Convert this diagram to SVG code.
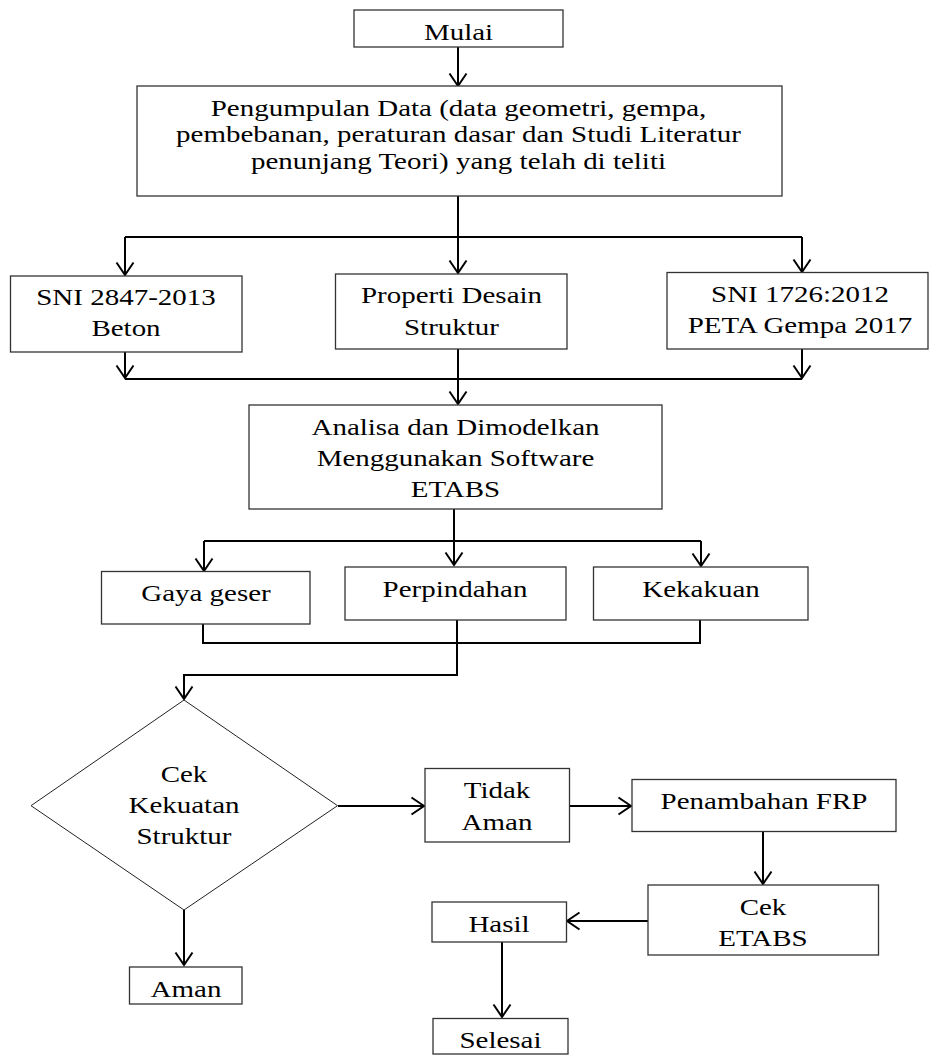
<svg xmlns="http://www.w3.org/2000/svg" width="930" height="1056" viewBox="0 0 930 1056">
<defs>
<style>
.box{fill:#fff;stroke:#333;stroke-width:1.3}
.dia{fill:#fff;stroke:#222;stroke-width:1}
.c{fill:none;stroke:#000;stroke-width:2}
.t{font-family:"Liberation Serif","Times New Roman",serif;font-size:23px;text-anchor:middle;fill:#000}
</style>
<marker id="ar" markerUnits="userSpaceOnUse" markerWidth="30" markerHeight="30" refX="0" refY="0" orient="auto" overflow="visible" viewBox="-15 -15 30 30">
<path d="M-12.5,-8.5 L0,0 L-12.5,8.5" fill="none" stroke="#000" stroke-width="2"/>
</marker>
</defs>
<rect width="930" height="1056" fill="#fff"/>
<g id="connectors">
<line class="c" x1="458" y1="47" x2="458" y2="86" marker-end="url(#ar)"/>
<line class="c" x1="458" y1="196" x2="458" y2="237"/>
<line class="c" x1="125" y1="237" x2="802" y2="237"/>
<line class="c" x1="125" y1="237" x2="125" y2="275" marker-end="url(#ar)"/>
<line class="c" x1="458" y1="237" x2="458" y2="273" marker-end="url(#ar)"/>
<line class="c" x1="802" y1="237" x2="802" y2="272" marker-end="url(#ar)"/>
<line class="c" x1="125" y1="352" x2="125" y2="378" marker-end="url(#ar)"/>
<line class="c" x1="802" y1="349" x2="802" y2="378" marker-end="url(#ar)"/>
<line class="c" x1="125" y1="379" x2="802" y2="379"/>
<line class="c" x1="458" y1="349" x2="458" y2="404" marker-end="url(#ar)"/>
<line class="c" x1="454" y1="509" x2="454" y2="565" marker-end="url(#ar)"/>
<line class="c" x1="204" y1="541" x2="701" y2="541"/>
<line class="c" x1="204" y1="541" x2="204" y2="571" marker-end="url(#ar)"/>
<line class="c" x1="701" y1="541" x2="701" y2="566" marker-end="url(#ar)"/>
<polyline class="c" points="203,624 203,643 700,643 700,620"/>
<polyline class="c" points="457,620 457,675 184,675 184,699" marker-end="url(#ar)"/>
<line class="c" x1="338" y1="806" x2="424" y2="806" marker-end="url(#ar)"/>
<line class="c" x1="570" y1="806" x2="631" y2="806" marker-end="url(#ar)"/>
<line class="c" x1="763" y1="832" x2="763" y2="884" marker-end="url(#ar)"/>
<line class="c" x1="648" y1="921" x2="567" y2="921" marker-end="url(#ar)"/>
<line class="c" x1="502" y1="942" x2="502" y2="1017" marker-end="url(#ar)"/>
<line class="c" x1="184" y1="910" x2="184" y2="965" marker-end="url(#ar)"/>
</g>
<g id="mulai">
<rect class="box" x="354" y="10" width="209" height="37"/>
<text class="t" transform="translate(458.5,39.5) scale(1.26,1)">Mulai</text>
</g>
<g id="pengumpulan">
<rect class="box" x="137" y="86" width="645" height="110"/>
<text class="t" transform="translate(458.5,116) scale(1.26,1)"><tspan x="0" y="0">Pengumpulan Data (data geometri, gempa,</tspan><tspan x="0" y="26.5">pembebanan, peraturan dasar dan Studi Literatur</tspan><tspan x="0" y="53">penunjang Teori) yang telah di teliti</tspan></text>
</g>
<g id="sni2847">
<rect class="box" x="10.5" y="276" width="231.5" height="76"/>
<text class="t" transform="translate(126,305) scale(1.26,1)"><tspan x="0" y="0">SNI 2847-2013</tspan><tspan x="0" y="31.5">Beton</tspan></text>
</g>
<g id="properti">
<rect class="box" x="335.5" y="274" width="231.5" height="75"/>
<text class="t" transform="translate(451.5,303) scale(1.26,1)"><tspan x="0" y="0">Properti Desain</tspan><tspan x="0" y="32">Struktur</tspan></text>
</g>
<g id="sni1726">
<rect class="box" x="667" y="272.5" width="261" height="76.5"/>
<text class="t" transform="translate(800,301.5) scale(1.26,1)"><tspan x="0" y="0">SNI 1726:2012</tspan><tspan x="0" y="31.5">PETA Gempa 2017</tspan></text>
</g>
<g id="analisa">
<rect class="box" x="249" y="405" width="413" height="104"/>
<text class="t" transform="translate(455.5,435) scale(1.26,1)"><tspan x="0" y="0">Analisa dan Dimodelkan</tspan><tspan x="0" y="31">Menggunakan Software</tspan><tspan x="0" y="62">ETABS</tspan></text>
</g>
<g id="gaya">
<rect class="box" x="101.5" y="571.5" width="208.5" height="52.5"/>
<text class="t" transform="translate(206,600.5) scale(1.26,1)">Gaya geser</text>
</g>
<g id="perpindahan">
<rect class="box" x="345" y="567" width="221" height="53"/>
<text class="t" transform="translate(455,596.5) scale(1.26,1)">Perpindahan</text>
</g>
<g id="kekakuan">
<rect class="box" x="593.5" y="567" width="214.5" height="53"/>
<text class="t" transform="translate(701,597) scale(1.26,1)">Kekakuan</text>
</g>
<g id="cek-kekuatan">
<polygon class="dia" points="184,700 337.5,805.7 184,910 31,805.7"/>
<text class="t" transform="translate(184,781.5) scale(1.26,1)"><tspan x="0" y="0">Cek</tspan><tspan x="0" y="31.5">Kekuatan</tspan><tspan x="0" y="62.5">Struktur</tspan></text>
</g>
<g id="aman">
<rect class="box" x="129.5" y="967" width="112.5" height="37"/>
<text class="t" transform="translate(186,996.5) scale(1.26,1)">Aman</text>
</g>
<g id="tidak-aman">
<rect class="box" x="425" y="768.5" width="144.5" height="73.5"/>
<text class="t" transform="translate(497,798) scale(1.26,1)"><tspan x="0" y="0">Tidak</tspan><tspan x="0" y="32">Aman</tspan></text>
</g>
<g id="penambahan">
<rect class="box" x="632" y="779.5" width="264" height="52"/>
<text class="t" transform="translate(764,809) scale(1.26,1)">Penambahan FRP</text>
</g>
<g id="cek-etabs">
<rect class="box" x="648" y="885" width="230.5" height="70"/>
<text class="t" transform="translate(763,915) scale(1.26,1)"><tspan x="0" y="0">Cek</tspan><tspan x="0" y="31">ETABS</tspan></text>
</g>
<g id="hasil">
<rect class="box" x="432" y="902" width="134.5" height="40"/>
<text class="t" transform="translate(499,931.5) scale(1.26,1)">Hasil</text>
</g>
<g id="selesai">
<rect class="box" x="433" y="1018.5" width="135" height="35.5"/>
<text class="t" transform="translate(500.5,1048) scale(1.26,1)">Selesai</text>
</g>
</svg>
